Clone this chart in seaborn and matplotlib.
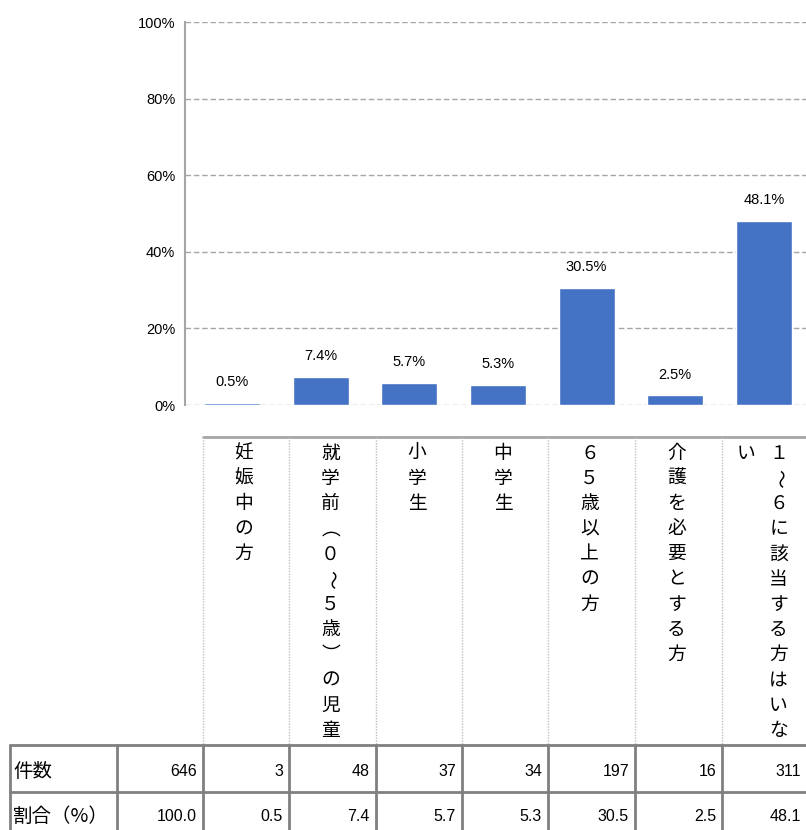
import matplotlib
matplotlib.use('Agg')
import matplotlib.pyplot as plt
import seaborn as sns
import pandas as pd
from matplotlib import font_manager

# ---- data ----
categories = ['妊娠中の方', '就学前（０～５歳）の児童', '小学生', '中学生',
              '６５歳以上の方', '介護を必要とする方', '１～６に該当する方はいない']
counts = [3, 48, 37, 34, 197, 16, 311]
percents = [0.5, 7.4, 5.7, 5.3, 30.5, 2.5, 48.1]
total_count = 646
total_percent = 100.0
row_labels = ['件数', '割合（%）']
y_ticks = [0, 20, 40, 60, 80, 100]
y_tick_labels = ['0%', '20%', '40%', '60%', '80%', '100%']

sns.set_theme(style='white')
avail = {f.name for f in font_manager.fontManager.ttflist}
num_font = 'Liberation Sans'
plt.rcParams['font.family'] = ['Noto Sans CJK JP', 'DejaVu Sans']

W, H = 806, 830
fig = plt.figure(figsize=(W / 100, H / 100), dpi=100)
fig.patch.set_facecolor('white')


def fx(px):
    return px / W


def fy(py):
    return 1 - py / H


# ---- bar chart ----
ax = fig.add_axes([fx(185), fy(405), (810 - 185) / W, (405 - 22) / H])
df = pd.DataFrame({'cat': categories, 'pct': percents})
sns.barplot(data=df, x='cat', y='pct', color='#4472C4', saturation=1,
            width=0.63, ax=ax)
ax.set_xlim(-0.53, 6.52)
ax.set_ylim(0, 100)
ax.set_yticks(y_ticks)
ax.set_yticklabels(y_tick_labels, fontfamily=num_font, fontsize=10.5, color='#000000')
ax.tick_params(axis='y', length=0, pad=7)
ax.set_xticks([])
ax.set_xlabel('')
ax.set_ylabel('')
for s in ['top', 'right', 'bottom']:
    ax.spines[s].set_visible(False)
ax.spines['left'].set_color('#A6A6A6')
ax.spines['left'].set_linewidth(1.5)
ax.yaxis.grid(True, linestyle=(0, (4, 2)), color='#A6A6A6', linewidth=1)
ax.set_axisbelow(True)
ax.patch.set_alpha(0)
for i, p in enumerate(percents):
    ax.annotate(f'{p:.1f}%', (i, p), xytext=(0, 10), textcoords='offset points',
                ha='center', va='bottom', fontsize=10.5, fontfamily=num_font,
                color='#000000')

# ---- table below ----
tab = fig.add_axes([0, 0, 1, 1])
tab.set_xlim(0, W)
tab.set_ylim(H, 0)
tab.axis('off')
tab.patch.set_alpha(0)

col_edges = [10, 117, 203, 289, 376, 462, 548, 635, 722, 807]
label_top = 437
row_lines = [745, 792, 839]

tab.plot([203, 807], [label_top, label_top], color='#A6A6A6', lw=2)
for x in col_edges[2:-1]:
    tab.plot([x, x], [label_top, row_lines[0]], color='#BFBFBF', lw=1,
             linestyle=(0, (1, 1)))
for y in row_lines:
    tab.plot([10, 807], [y, y], color='#808080', lw=2)
for x in col_edges:
    tab.plot([x, x], [row_lines[0], row_lines[-1]], color='#808080', lw=2)

# vertical category labels (vertical writing forms for brackets)
vertical_forms = {'（': '︵', '）': '︶'}
max_chars = 12
for i, cat in enumerate(categories):
    cx = (col_edges[i + 2] + col_edges[i + 3]) / 2 - 2
    chunks = [cat[k:k + max_chars] for k in range(0, len(cat), max_chars)]
    n = len(chunks)
    for j, chunk in enumerate(chunks):
        x = cx + (n - 1) * 16 - j * 32
        for k, ch in enumerate(chunk):
            rot = -90 if ch == '～' else 0
            tab.text(x, 453 + k * 25.2, vertical_forms.get(ch, ch), ha='center',
                     va='center', fontsize=13.5, rotation=rot, color='#000000')

# rows
row_values = [[str(total_count)] + [str(c) for c in counts],
              [f'{total_percent:.1f}'] + [f'{p:.1f}' for p in percents]]
row_y = [771, 816]
for r, (lab, vals) in enumerate(zip(row_labels, row_values)):
    tab.text(13, row_y[r], lab, ha='left', va='center', fontsize=14, color='#000000')
    for k, v in enumerate(vals):
        tab.text(col_edges[k + 2] - 6, row_y[r], v, ha='right', va='center',
                 fontsize=11.5, fontfamily=num_font, color='#000000')

fig.savefig('out.png', dpi=100, facecolor='white')
